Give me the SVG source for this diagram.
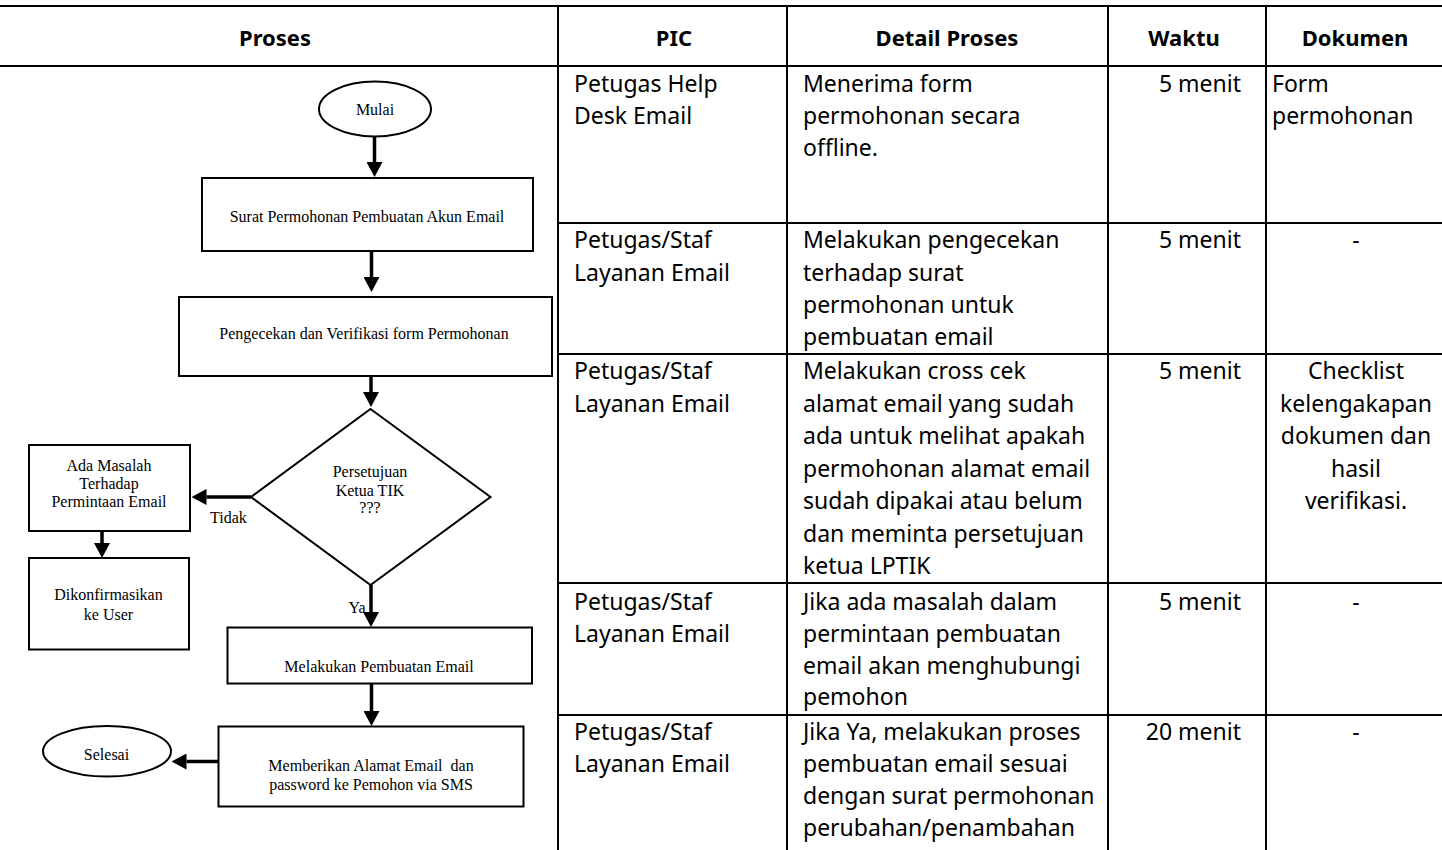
<svg xmlns="http://www.w3.org/2000/svg" width="1442" height="850" viewBox="0 0 1442 850">
  <defs>
    <marker id="ah" viewBox="0 0 15 16" refX="0" refY="8" markerWidth="15" markerHeight="16" orient="auto" markerUnits="userSpaceOnUse">
      <path d="M0,0 L15,8 L0,16 z" fill="#000"/>
    </marker>
    <style>
      .grid { stroke: #000; stroke-width: 2; fill: none; }
      .hd { font-family: "Noto Sans", "Liberation Sans", sans-serif; font-weight: bold; font-size: 22px; fill: #000; text-anchor: middle; }
      .tx { font-family: "Noto Sans", "Liberation Sans", sans-serif; font-size: 23px; fill: #000; }
      .r { text-anchor: end; }
      .c { text-anchor: middle; }
      .shape { fill: #fff; stroke: #000; stroke-width: 2; }
      .ft { font-family: "Liberation Serif", "Times New Roman", serif; font-size: 16px; fill: #000; text-anchor: middle; }
      .conn { stroke: #000; stroke-width: 3.5; fill: none; marker-end: url(#ah); }
    </style>
  </defs>

  <rect width="1442" height="850" fill="#fff"/>

  <!-- table grid -->
  <g id="table-grid" class="grid">
    <path d="M0,6 H1442 M0,66 H1442"/>
    <path d="M558,6 V850 M787,6 V850 M1108,6 V850 M1266,6 V850"/>
    <path d="M558,223 H1442 M558,354 H1442 M558,583 H1442 M558,715 H1442"/>
  </g>

  <!-- header row -->
  <g id="header">
    <text class="hd" x="275" y="46">Proses</text>
    <text class="hd" x="674" y="46">PIC</text>
    <text class="hd" x="947" y="46">Detail Proses</text>
    <text class="hd" x="1184" y="46">Waktu</text>
    <text class="hd" x="1355" y="46">Dokumen</text>
  </g>

  <!-- row 1 -->
  <g id="row-1" class="tx">
    <text x="574" y="92">Petugas Help</text>
    <text x="574" y="124">Desk Email</text>
    <text x="803" y="92">Menerima form</text>
    <text x="803" y="124">permohonan secara</text>
    <text x="803" y="156">offline.</text>
    <text class="r" x="1241" y="92">5 menit</text>
    <text x="1272" y="92">Form</text>
    <text x="1272" y="124">permohonan</text>
  </g>

  <!-- row 2 -->
  <g id="row-2" class="tx">
    <text x="574" y="248">Petugas/Staf</text>
    <text x="574" y="281">Layanan Email</text>
    <text x="803" y="248">Melakukan pengecekan</text>
    <text x="803" y="281">terhadap surat</text>
    <text x="803" y="313">permohonan untuk</text>
    <text x="803" y="345">pembuatan email</text>
    <text class="r" x="1241" y="248">5 menit</text>
    <text class="c" x="1356" y="248">-</text>
  </g>

  <!-- row 3 -->
  <g id="row-3" class="tx">
    <text x="574" y="379">Petugas/Staf</text>
    <text x="574" y="411.5">Layanan Email</text>
    <text x="803" y="379">Melakukan cross cek</text>
    <text x="803" y="411.5">alamat email yang sudah</text>
    <text x="803" y="444">ada untuk melihat apakah</text>
    <text x="803" y="476.5">permohonan alamat email</text>
    <text x="803" y="509">sudah dipakai atau belum</text>
    <text x="803" y="541.5">dan meminta persetujuan</text>
    <text x="803" y="574">ketua LPTIK</text>
    <text class="r" x="1241" y="379">5 menit</text>
    <text class="c" x="1356" y="379">Checklist</text>
    <text class="c" x="1356" y="411.5">kelengakapan</text>
    <text class="c" x="1356" y="444">dokumen dan</text>
    <text class="c" x="1356" y="476.5">hasil</text>
    <text class="c" x="1356" y="509">verifikasi.</text>
  </g>

  <!-- row 4 -->
  <g id="row-4" class="tx">
    <text x="574" y="609.5">Petugas/Staf</text>
    <text x="574" y="641.5">Layanan Email</text>
    <text x="803" y="609.5">Jika ada masalah dalam</text>
    <text x="803" y="641.5">permintaan pembuatan</text>
    <text x="803" y="673.5">email akan menghubungi</text>
    <text x="803" y="704.5">pemohon</text>
    <text class="r" x="1241" y="609.5">5 menit</text>
    <text class="c" x="1356" y="609.5">-</text>
  </g>

  <!-- row 5 -->
  <g id="row-5" class="tx">
    <text x="574" y="740">Petugas/Staf</text>
    <text x="574" y="772">Layanan Email</text>
    <text x="803" y="740">Jika Ya, melakukan proses</text>
    <text x="803" y="772">pembuatan email sesuai</text>
    <text x="803" y="804">dengan surat permohonan</text>
    <text x="803" y="835.5">perubahan/penambahan</text>
    <text class="r" x="1241" y="740">20 menit</text>
    <text class="c" x="1356" y="740">-</text>
  </g>

  <!-- flowchart connectors -->
  <g id="connectors">
    <path class="conn" d="M374.5,137 V162"/>
    <path class="conn" d="M371.5,251 V277"/>
    <path class="conn" d="M371,376 V392"/>
    <path class="conn" d="M251,497 H206.5"/>
    <path class="conn" d="M102,531 V543"/>
    <path class="conn" d="M371,585 V612"/>
    <path class="conn" d="M371.5,683.5 V711"/>
    <path class="conn" d="M218.5,761.5 H186.5"/>
  </g>

  <!-- flowchart nodes -->
  <g id="mulai">
    <ellipse class="shape" cx="375" cy="109" rx="56" ry="27.5"/>
    <text class="ft" x="375" y="115">Mulai</text>
  </g>

  <g id="surat-permohonan">
    <rect class="shape" x="202" y="178" width="331" height="73"/>
    <text class="ft" x="367" y="222">Surat Permohonan Pembuatan Akun Email</text>
  </g>

  <g id="pengecekan">
    <rect class="shape" x="179" y="297" width="373" height="79"/>
    <text class="ft" x="364" y="339">Pengecekan dan Verifikasi form Permohonan</text>
  </g>

  <g id="persetujuan">
    <polygon class="shape" points="370.5,409 490.5,497 370.5,585 251,497"/>
    <text class="ft" x="370" y="477">Persetujuan</text>
    <text class="ft" x="370" y="495.5">Ketua TIK</text>
    <text class="ft" x="370" y="513">???</text>
  </g>

  <g id="label-tidak">
    <text class="ft" x="228.5" y="523">Tidak</text>
  </g>

  <g id="label-ya">
    <text class="ft" x="357" y="612.5">Ya</text>
  </g>

  <g id="ada-masalah">
    <rect class="shape" x="29" y="445" width="161" height="86"/>
    <text class="ft" x="109" y="471">Ada Masalah</text>
    <text class="ft" x="109" y="489.3">Terhadap</text>
    <text class="ft" x="109" y="507">Permintaan Email</text>
  </g>

  <g id="dikonfirmasikan">
    <rect class="shape" x="29" y="558" width="160" height="91.5"/>
    <text class="ft" x="108.5" y="599.5">Dikonfirmasikan</text>
    <text class="ft" x="108.5" y="619.5">ke User</text>
  </g>

  <g id="pembuatan-email">
    <rect class="shape" x="227.5" y="627.5" width="304.5" height="56"/>
    <text class="ft" x="379" y="671.5">Melakukan Pembuatan Email</text>
  </g>

  <g id="memberikan-alamat">
    <rect class="shape" x="218.5" y="726.5" width="305" height="80"/>
    <text class="ft" x="371" y="770.5" xml:space="preserve">Memberikan Alamat Email  dan</text>
    <text class="ft" x="371" y="790">password ke Pemohon via SMS</text>
  </g>

  <g id="selesai">
    <ellipse class="shape" cx="107" cy="751.3" rx="64" ry="25.3"/>
    <text class="ft" x="106.5" y="760">Selesai</text>
  </g>
</svg>
